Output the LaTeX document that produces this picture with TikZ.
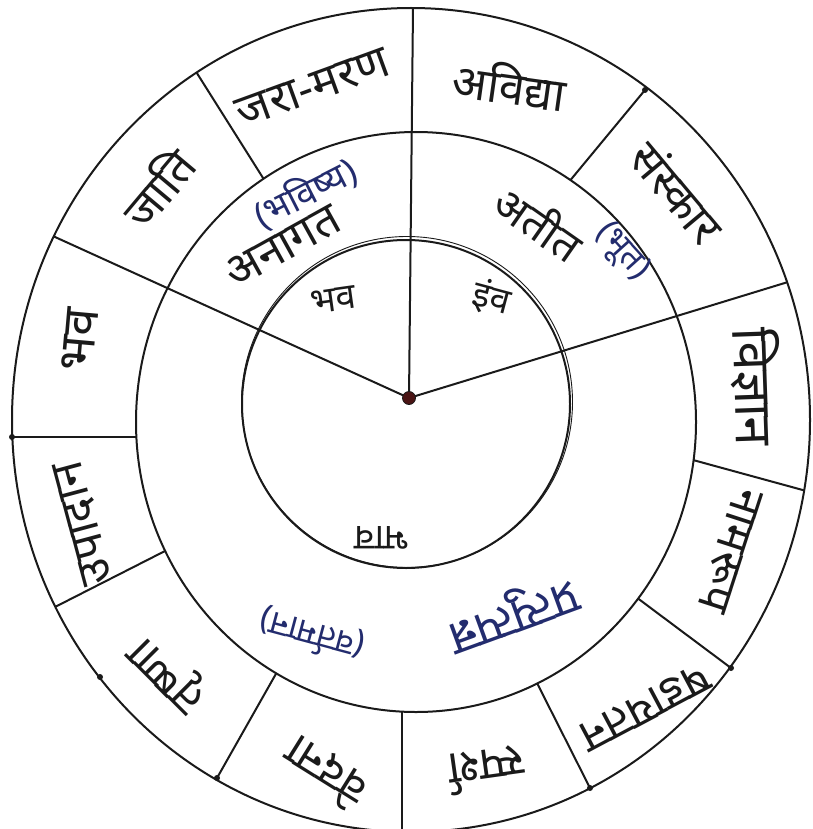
\documentclass[tikz,border=0pt]{standalone}
\usepackage{fontspec}
\newfontfamily\dev[Script=Devanagari]{Noto Sans}
\usetikzlibrary{calc}
\definecolor{ink}{HTML}{1A1A1A}
\definecolor{blueink}{HTML}{232C6E}
\definecolor{dotred}{HTML}{4A1414}
\begin{document}
\begin{tikzpicture}[x=1pt,y=-1pt, line cap=round, line join=round,
  wline/.style={draw=ink, line width=2pt},
  lab/.style={font=\dev\fontsize{46}{50}\selectfont, text=ink, inner sep=0pt},
  midlab/.style={font=\dev\fontsize{46}{50}\selectfont, text=ink, inner sep=0pt},
  blab/.style={font=\dev\fontsize{34}{38}\selectfont, text=blueink, inner sep=0pt},
  innerlab/.style={font=\dev\fontsize{36}{40}\selectfont, text=ink, inner sep=0pt},
  jdot/.style={fill=ink, circle, inner sep=0pt, minimum size=6pt}]
\useasboundingbox (0,0) rectangle (812,829);
\fill[white] (0,0) rectangle (812,829);

\coordinate (O) at (409,398);
% short separators of the outer ring
\coordinate (s2a) at (573,177); \coordinate (s2b) at (645,90);
\coordinate (s4a) at (693,460); \coordinate (s4b) at (810,492);
\coordinate (s5a) at (640,600); \coordinate (s5b) at (735,671);
\coordinate (s6a) at (538,685); \coordinate (s6b) at (592,792);
\coordinate (s7a) at (402,715); \coordinate (s7b) at (402,829);
\coordinate (s8a) at (277,672); \coordinate (s8b) at (217,778);
\coordinate (s9a) at (167,550); \coordinate (s9b) at (53,608);
\coordinate (s10a) at (135,437); \coordinate (s10b) at (12,437);
\coordinate (s12a) at (258,170); \coordinate (s12b) at (200,78);
% long lines from the centre
\coordinate (up) at (413,8);
\coordinate (left) at (55,237);
\coordinate (right) at (788,282);

\begin{scope}
  \clip (411,420) ellipse [x radius=399pt, y radius=412pt];
  \foreach \s in {2,4,5,6,7,8,9,10,12}
    \draw[wline] ($(s\s a)!-0.6!(s\s b)$) -- ($(s\s a)!1.6!(s\s b)$);
  \fill[white] (416,422) ellipse [x radius=280pt, y radius=290pt];
  \draw[wline] (O) -- ($(O)!1.1!(up)$);
  \draw[wline] (O) -- ($(O)!1.1!(left)$);
  \draw[wline] (O) -- ($(O)!1.1!(right)$);
\end{scope}

% circles
\draw[wline] (411,420) ellipse [x radius=399pt, y radius=412pt];
\draw[wline] (416,422) ellipse [x radius=280pt, y radius=290pt];
\draw[wline] (406,404) circle [radius=164pt];
\draw[draw=ink, line width=0.9pt] (407,402) circle [radius=165.5pt];
\node[circle, fill=dotred, draw=ink, line width=0.8pt, minimum size=13pt, inner sep=0pt] (c) at (O) {};

% junction dots
\foreach \p in {(731,668),(590,788),(217,778),(12,437),(100,677),(645,90)}
  \node[jdot] at \p {};

% outer ring labels
\node[lab, rotate=20] (jara) at (313,88) {जरा-मरण};
\node[lab, rotate=-8] (avidya) at (510,84) {अविद्या};
\node[lab, rotate=-50] (sanskar) at (678,192) {संस्कार};
\node[lab, font=\dev\fontsize{52}{56}\selectfont, rotate=-88] (vijnan) at (756,387) {विज्ञान};
\node[lab, rotate=-108] (namarupa) at (730,550) {नामरूप};
\node[lab, rotate=-152] (shadayatan) at (645,707) {षडायतन};
\node[lab, rotate=-172] (sparsh) at (487,770) {स्पर्श};
\node[lab, rotate=148] (vedana) at (325,773) {वेदना};
\node[lab, rotate=135] (trishna) at (170,672) {तृष्णा};
\node[lab, rotate=105] (upadan) at (84,523) {उपादान};
\node[lab, font=\dev\fontsize{50}{54}\selectfont, rotate=85] (bhav) at (80,340) {भव};
\node[lab, rotate=50] (jati) at (157,187) {जाति};

% middle ring labels
\node[midlab, rotate=29] (anagat) at (283,247) {अनागत};
\node[blab, font=\dev\fontsize{36}{40}\selectfont, rotate=27] (bhavishya) at (305,193) {(भविष्य)};
\node[midlab, font=\dev\fontsize{44}{48}\selectfont, rotate=-35] (atit) at (540,222) {अतीत};
\node[blab, rotate=-48] (bhut) at (622,252) {(भूत)};
\node[blab, font=\dev\fontsize{48}{52}\selectfont, rotate=200] (pratyutpanna) at (512,612) {प्रत्युत्पन्न};
\node[blab, rotate=165] (vartaman) at (312,635) {(वर्तमान)};

% inner circle labels
\node[innerlab, rotate=8] (i1) at (333,300) {भव};
\node[innerlab, rotate=-15] (i2) at (492,298) {इंव};
\node[innerlab, rotate=180] (i3) at (382,538) {भाव};
\end{tikzpicture}
\end{document}
